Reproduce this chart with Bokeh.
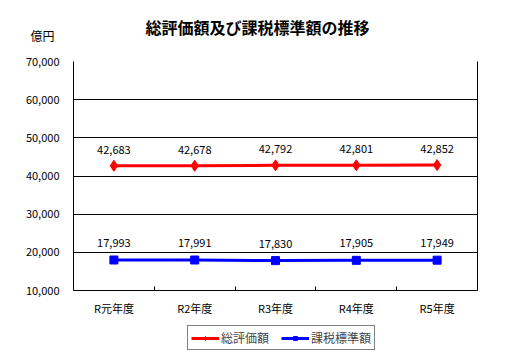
from bokeh.plotting import figure
from bokeh.models import (ColumnDataSource, FixedTicker, NumeralTickFormatter, Title,
                          Legend, LegendItem, Range1d, Label, LinearAxis)
from bokeh.core.properties import value
from bokeh.embed import file_html
from bokeh.resources import INLINE

categories = ["R元年度", "R2年度", "R3年度", "R4年度", "R5年度"]
total_value = [42683, 42678, 42792, 42801, 42852]
tax_base = [17993, 17991, 17830, 17905, 17949]
y_ticks = [10000, 20000, 30000, 40000, 50000, 60000, 70000]

xs = list(range(1, len(categories) + 1))
FONT = "Noto Sans CJK JP"

# layout: plot box 229 px tall; frame extends 67 px lower to hold the legend
BOX_H = 229
FRAME_H = 296
y_lo = y_ticks[0] - (FRAME_H - BOX_H) * (y_ticks[-1] - y_ticks[0]) / BOX_H

src_a = ColumnDataSource(dict(x=xs, y=total_value, t=[f"{v:,}" for v in total_value]))
src_b = ColumnDataSource(dict(x=xs, y=tax_base, t=[f"{v:,}" for v in tax_base]))

p = figure(frame_width=404, frame_height=FRAME_H, output_backend="svg", toolbar_location=None,
           x_range=Range1d(0.5, len(categories) + 0.5),
           y_range=Range1d(y_lo, y_ticks[-1]),
           min_border_left=73, min_border_right=54, min_border_top=61, min_border_bottom=0)
p.background_fill_color = "white"
p.border_fill_color = "white"
p.outline_line_color = None

# left y axis
ya = p.yaxis[0]
ya.ticker = FixedTicker(ticks=y_ticks)
ya.formatter = NumeralTickFormatter(format="0,0")
ya.bounds = (y_ticks[0], y_ticks[-1])
ya.major_tick_line_color = None
ya.major_tick_in = 0
ya.major_tick_out = 0
ya.minor_tick_line_color = None
ya.minor_tick_in = 0
ya.minor_tick_out = 0
ya.axis_line_color = "black"
ya.axis_line_width = 1
ya.major_label_standoff = 14
ya.major_label_text_font = FONT
ya.major_label_text_font_size = "11px"
ya.major_label_text_color = "black"

# right border of the plot box
ry = LinearAxis(ticker=FixedTicker(ticks=[]), bounds=(y_ticks[0], y_ticks[-1]),
                axis_line_color="black", axis_line_width=1,
                major_tick_line_color=None, minor_tick_line_color=None,
                major_tick_in=0, major_tick_out=0, minor_tick_in=0, minor_tick_out=0)
p.add_layout(ry, "right")

# x axis fixed at the bottom of the plot box
xa = p.xaxis[0]
xa.fixed_location = y_ticks[0]
xa.ticker = FixedTicker(ticks=xs, minor_ticks=[x + 0.5 for x in xs[:-1]])
xa.major_label_overrides = {x: c for x, c in zip(xs, categories)}
xa.major_tick_line_color = None
xa.major_tick_in = 0
xa.major_tick_out = 0
xa.minor_tick_line_color = "black"
xa.minor_tick_in = 4
xa.minor_tick_out = 0
xa.axis_line_color = "black"
xa.major_label_standoff = 9
xa.major_label_text_font = FONT
xa.major_label_text_font_size = "11px"
xa.major_label_text_color = "black"

p.xgrid.grid_line_color = None
p.ygrid.ticker = FixedTicker(ticks=y_ticks)
p.ygrid.grid_line_color = "black"
p.ygrid.grid_line_width = 1

# series
la = p.line("x", "y", source=src_a, line_color="#ff0000", line_width=3)
ma = p.scatter("x", "y", source=src_a, marker="diamond", size=11, fill_color="#ff0000", line_color="#ff0000")
lb = p.line("x", "y", source=src_b, line_color="#0000ff", line_width=3)
mb = p.scatter("x", "y", source=src_b, marker="square", size=8, fill_color="#0000ff", line_color="#0000ff")

p.text("x", "y", text="t", source=src_a, text_align="center", text_baseline="middle",
       y_offset=-16, text_font=value(FONT), text_font_size="11px", text_color="black")
p.text("x", "y", text="t", source=src_b, text_align="center", text_baseline="middle",
       y_offset=-17, text_font=value(FONT), text_font_size="11px", text_color="black")

# unit label and title
unit = Label(text="億円", x=-43, y=26, x_units="screen", y_units="screen",
             text_baseline="middle", text_align="left", text_font=FONT,
             text_font_size="12px", text_color="black")
p.add_layout(unit, "above")
main = Title(text="総評価額及び課税標準額の推移", align="left", offset=72, text_font=FONT,
             text_font_size="16px", text_font_style="bold", text_color="black", standoff=12)
p.add_layout(main, "above")

legend = Legend(items=[LegendItem(label="総評価額", renderers=[la, ma]),
                       LegendItem(label="課税標準額", renderers=[lb, mb])],
                orientation="horizontal", location=(114, 7),
                border_line_color="black", border_line_width=1,
                label_text_font=FONT, label_text_font_size="12px",
                glyph_width=28, glyph_height=10, label_height=14, padding=3, spacing=12,
                label_standoff=2, margin=0, background_fill_color="white")
p.add_layout(legend, "center")

open("out.html", "w").write(file_html(p, INLINE))
